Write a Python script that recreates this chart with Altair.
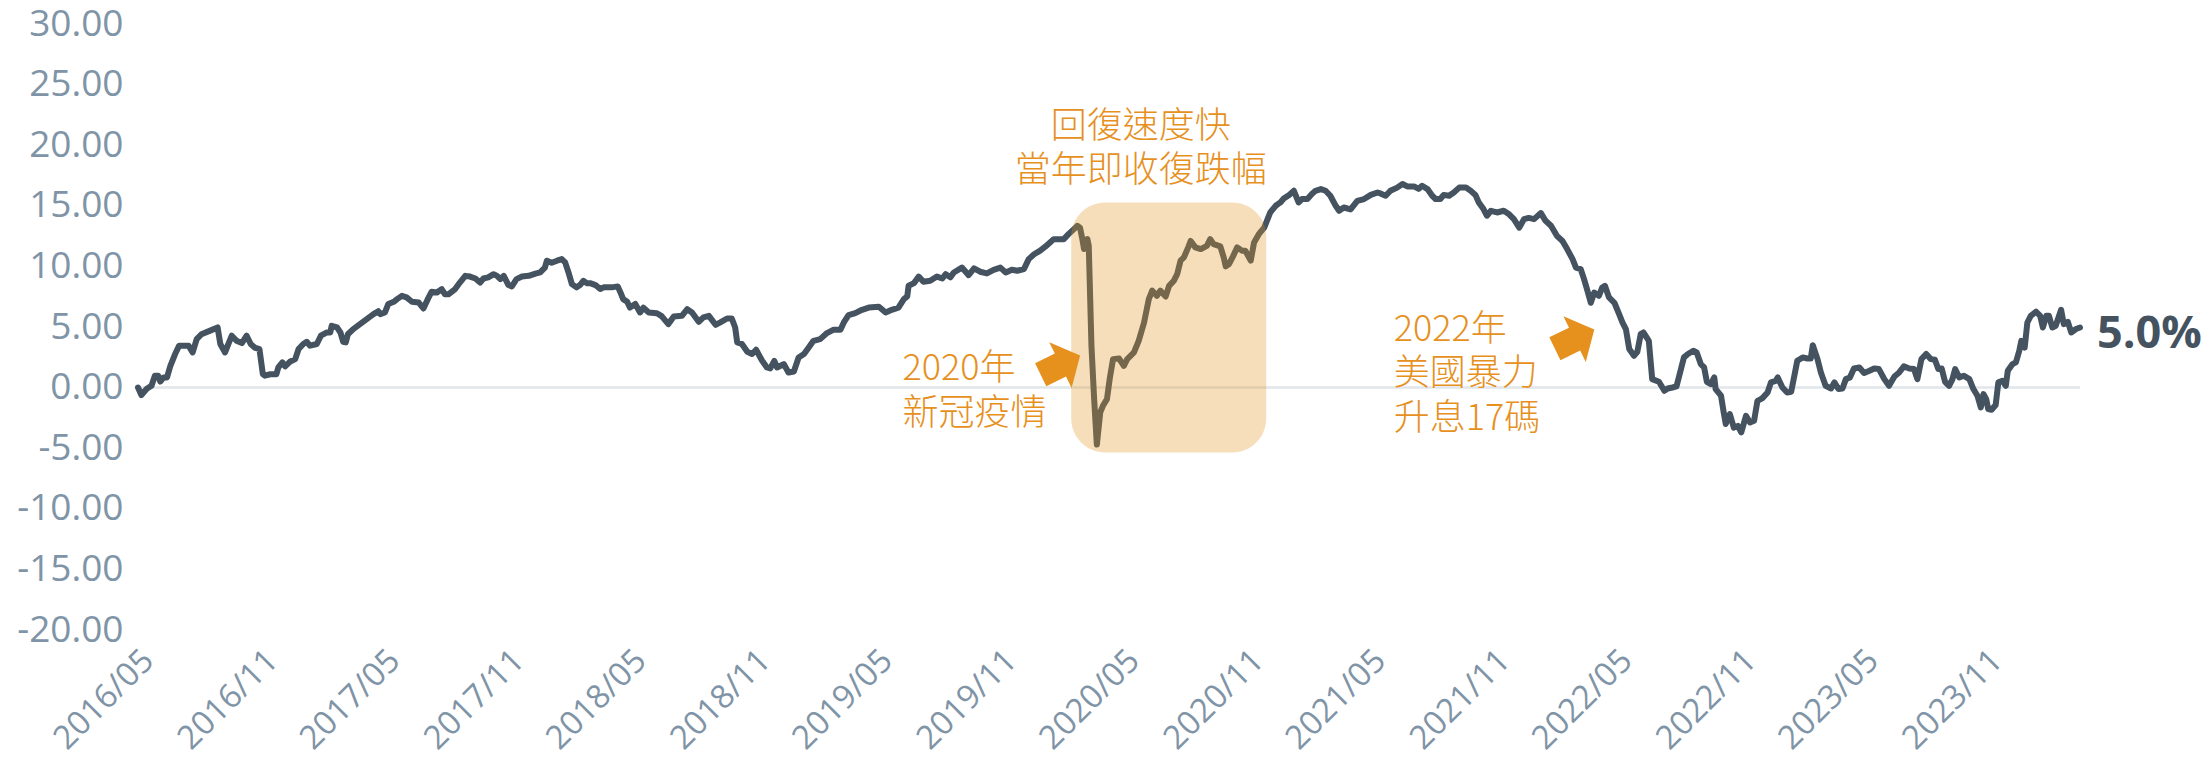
import altair as alt
import pandas as pd

# ---------------- data ----------------
start_date = "2016-05-01"

day_offsets = [
    0, 5, 13, 20, 25, 30, 33, 38, 43, 48, 55, 61, 75, 81, 87, 94, 107, 118, 122, 129,
    134, 139, 146, 154, 161, 167, 173, 180, 185, 188, 196, 205, 208, 214, 218, 225, 233, 238, 245, 250,
    255, 265, 271, 280, 285, 287, 295, 300, 304, 308, 311, 319, 329, 339, 349, 356, 359, 366, 371, 379,
    384, 391, 398, 406, 416, 423, 430, 435, 443, 450, 455, 460, 470, 477, 485, 492, 500, 507, 512, 519,
    527, 532, 537, 542, 549, 554, 561, 569, 579, 589, 596, 603, 606, 613, 621, 628, 633, 638, 643, 650,
    655, 660, 665, 670, 678, 685, 690, 702, 711, 715, 719, 725, 729,
    737, 744, 749, 757, 769, 776, 786, 794, 806, 814, 821, 831, 838, 846, 856, 863, 873, 880, 885, 888,
    895, 903, 910, 916, 925, 932, 937, 943, 947, 957, 964, 972, 979, 987, 994, 1001, 1011, 1021, 1031, 1041,
    1046, 1053, 1063, 1073, 1083, 1098, 1108, 1117, 1127, 1135, 1140, 1142, 1150, 1157, 1164, 1174, 1184, 1192, 1197, 1204,
    1209, 1221, 1231, 1239, 1248, 1258, 1268, 1278, 1286, 1295, 1303, 1313, 1320, 1328, 1337, 1345, 1352, 1357, 1372, 1379,
    1387, 1392, 1396, 1399, 1402, 1407, 1409, 1413, 1417, 1421, 1426, 1430, 1436, 1440, 1445, 1454,
    1461, 1466, 1476, 1483, 1491, 1498, 1503, 1510, 1515, 1523, 1528, 1535, 1540, 1545, 1550, 1557, 1560, 1567, 1575, 1584,
    1589, 1594, 1604, 1609, 1612, 1617, 1622, 1629, 1636, 1641, 1649, 1654, 1661, 1669, 1673, 1678, 1686, 1693, 1698, 1706,
    1713, 1720, 1725, 1733, 1740, 1745, 1753, 1760, 1767, 1775, 1780, 1787, 1797, 1807, 1817, 1827, 1837, 1842, 1849, 1856,
    1866, 1874, 1881, 1891, 1898, 1903, 1911, 1918, 1923, 1930, 1935, 1943, 1950, 1958, 1968, 1975, 1982, 1987, 1994, 1999,
    2005, 2014, 2024, 2032, 2039, 2047, 2054, 2061, 2069, 2079, 2086, 2094, 2103, 2111, 2118, 2126, 2131, 2138, 2143, 2148,
    2153, 2158, 2165,
    2170, 2174, 2180, 2188, 2195, 2200, 2205, 2210, 2217, 2222, 2227, 2231, 2239, 2244, 2254, 2262, 2267, 2274, 2280, 2286,
    2291, 2297, 2305, 2310, 2316, 2321, 2325, 2331, 2336, 2338, 2346, 2350, 2353, 2359, 2365, 2371, 2376, 2383, 2389, 2395,
    2400, 2407, 2415, 2420, 2427, 2430, 2437, 2444, 2450, 2459, 2467, 2474, 2479, 2482, 2489, 2494, 2501, 2509, 2514, 2520,
    2526, 2531, 2537, 2543, 2551, 2558, 2566, 2573, 2580, 2588, 2595, 2603, 2610, 2617, 2625, 2632, 2637, 2643, 2650, 2657,
    2663, 2668, 2673, 2678, 2684, 2689, 2693, 2699, 2706, 2714, 2720, 2726, 2731, 2735, 2739, 2742, 2747, 2753, 2757, 2763,
    2768, 2771, 2778, 2783, 2788, 2791, 2796, 2800, 2805, 2813, 2819, 2823, 2828, 2832, 2837, 2842, 2850, 2854, 2860, 2865,
    2872, 2878,
]

values = [
    0.0, -0.62, -0.1, 0.15, 0.98, 0.98, 0.5, 0.84, 0.84, 1.8, 2.77, 3.46, 3.46, 2.9, 4.0, 4.4, 4.7, 4.96, 3.6, 2.9,
    3.6, 4.28, 3.87, 3.67, 4.28, 3.6, 3.3, 3.18, 1.11, 0.98, 1.1, 1.1, 1.66, 2.08, 1.75, 2.13, 2.35, 3.18, 3.6, 3.78,
    3.46, 3.6, 4.28, 4.55, 4.55, 5.1, 4.96, 4.55, 3.78, 3.73, 4.4, 4.83, 5.24, 5.65, 6.06, 6.3, 6.06, 6.2, 6.9, 7.08,
    7.3, 7.57, 7.44, 7.08, 7.02, 6.53, 7.36, 7.9, 7.85, 8.13, 7.7, 7.7, 8.13, 8.67, 9.22, 9.16, 9.0, 8.67, 9.0, 9.09,
    9.36, 9.22, 8.95, 9.22, 8.46, 8.35, 8.95, 9.16, 9.22, 9.4, 9.5, 9.9, 10.47, 10.3, 10.47, 10.6, 10.33, 9.5, 8.54, 8.27,
    8.46, 8.81, 8.62, 8.62, 8.46, 8.13, 8.27, 8.27, 8.35, 7.85, 7.3, 7.08, 6.6,
    6.9, 6.2, 6.6, 6.2, 6.14, 5.9, 5.24, 5.87, 5.92, 6.47, 6.2, 5.43, 5.8, 5.92, 5.18, 5.38, 5.7, 5.7, 4.96, 3.73,
    3.6, 2.96, 2.77, 3.12, 2.21, 1.66, 1.58, 2.21, 1.66, 1.94, 1.25, 1.33, 2.49, 2.77, 3.31, 3.86, 4.0, 4.5, 4.78, 4.78,
    5.38, 5.98, 6.14, 6.42, 6.6, 6.67, 6.2, 6.42, 6.6, 7.3, 7.52, 8.4, 8.62, 9.16, 8.73, 8.81, 9.16, 9.0, 9.36, 9.1,
    9.5, 9.9, 9.28, 9.83, 9.56, 9.42, 9.72, 9.9, 9.5, 9.72, 9.64, 9.78, 10.6, 11.0, 11.3, 11.65, 12.0, 12.25, 12.25, 12.66,
    13.08, 13.35, 13.2, 12.4, 11.43, 12.25, 11.7, 3.45, -0.95, -4.7, -2.05, -1.5, -0.95, 0.7, 2.35, 2.4,
    1.8, 2.35, 2.9, 3.86, 5.37, 7.3, 8.0, 7.57, 8.0, 7.52, 8.4, 8.8, 9.36, 10.47, 10.74, 11.65, 12.1, 11.57, 11.43, 11.7,
    12.25, 11.84, 11.65, 10.74, 10.0, 10.2, 10.74, 11.57, 11.3, 11.3, 10.47, 11.98, 12.66, 13.2, 13.76, 14.45, 15.0, 15.28, 15.6, 15.9,
    16.24, 15.28, 15.56, 15.56, 16.0, 16.24, 16.38, 16.24, 15.83, 15.0, 14.59, 14.86, 14.7, 15.4, 15.56, 15.9, 16.1, 16.0, 15.83, 16.24,
    16.5, 16.8, 16.6, 16.6, 16.4, 16.65, 16.38, 15.83, 15.56, 15.56, 15.9, 15.83, 16.1, 16.5, 16.5, 16.24, 15.9, 15.28, 14.73, 14.18,
    14.59, 14.45, 14.59, 14.3, 13.9, 13.2, 13.9, 14.0, 13.9, 14.4, 13.76, 13.35, 12.5, 12.1, 11.43, 10.6, 9.9, 9.78, 8.95, 8.0,
    7.0, 7.84, 7.57,
    8.26, 8.4, 7.44, 7.0, 6.06, 5.37, 4.83, 3.18, 2.63, 2.96, 4.41, 4.55, 3.86, 0.7, 0.48, -0.26, -0.07, 0.01, 0.1, 1.39,
    2.49, 2.77, 3.04, 2.9, 1.94, 1.66, 0.48, 0.29, 0.84, -0.12, -0.67, -2.05, -3.0, -2.19, -3.3, -3.16, -3.7, -2.33, -2.88, -2.74,
    -1.09, -0.89, -0.4, 0.43, 0.56, 0.84, 0.01, -0.4, -0.34, 2.21, 2.49, 2.4, 2.4, 3.5, 2.35, 1.25, 0.15, -0.07, 0.43, -0.12,
    -0.07, 0.7, 0.84, 1.58, 1.66, 1.2, 1.39, 1.58, 1.53, 0.7, 0.15, 0.92, 1.25, 1.75, 1.58, 1.53, 0.7, 2.35, 2.77, 2.35,
    2.3, 1.53, 1.58, 0.48, 0.15, 0.7, 1.53, 0.84, 0.98, 0.7, -0.12, -0.67, -1.63, -0.54, -0.95, -1.77, -1.83, -1.44, 0.43, 0.56,
    0.15, 1.39, 1.94, 2.08, 3.04, 3.86, 3.3, 5.37, 5.92, 6.26, 5.92, 4.96, 5.92, 5.92, 4.96, 5.1, 6.42, 5.24, 5.43, 4.55,
    4.83, 4.96,
]

x_tick_dates = [
    (2016, 5), (2016, 11), (2017, 5), (2017, 11), (2018, 5), (2018, 11), (2019, 5), (2019, 11),
    (2020, 5), (2020, 11), (2021, 5), (2021, 11), (2022, 5), (2022, 11), (2023, 5), (2023, 11),
]
y_ticks = [-20, -15, -10, -5, 0, 5, 10, 15, 20, 25, 30]

# annotation texts (centered block above the box)
center_text = ["回復速度快", "當年即收復跌幅"]
center_day = [1486, 1486]
center_value = [21.5, 17.86]

# left-aligned annotation texts
left_text = ["2020年", "新冠疫情", "2022年", "美國暴力", "升息17碼"]
left_day = [1133, 1133, 1861, 1861, 1861]
left_value = [1.53, -2.19, 4.74, 1.11, -2.6]

arrow_day = [1367, 2129]
arrow_value = [1.86, 4.0]

box_day = [1383, 1672]
box_value = [-5.35, 15.28]

end_label = "5.0%"
end_label_value = 4.4

# ---------------- helpers ----------------
base = pd.Timestamp(start_date)


def to_date(d):
    return (base + pd.Timedelta(days=d)).strftime("%Y-%m-%dT00:00:00")


series = pd.DataFrame({"date": [to_date(d) for d in day_offsets], "value": values})
zero_df = pd.DataFrame({"date": [to_date(day_offsets[0])], "date2": [to_date(day_offsets[-1])], "value": [0]})
box_df = pd.DataFrame({"date": [to_date(box_day[0])], "date2": [to_date(box_day[1])],
                       "value": [box_value[0]], "value2": [box_value[1]]})
center_df = pd.DataFrame({"date": [to_date(d) for d in center_day], "value": center_value, "label": center_text})
left_df = pd.DataFrame({"date": [to_date(d) for d in left_day], "value": left_value, "label": left_text})
arrow_df = pd.DataFrame({"date": [to_date(d) for d in arrow_day], "value": arrow_value})
end_df = pd.DataFrame({"date": [to_date(day_offsets[-1])], "value": [end_label_value], "label": [end_label]})

LINE = "#44535F"
ORANGE = "#E6901E"
AXIS_TXT = "#7F94A6"

xscale = alt.Scale(nice=False)
yscale = alt.Scale(domain=[-20, 30], nice=False, zero=False)

xaxis = alt.Axis(
    values=[alt.DateTime(year=y, month=m, date=1) for y, m in x_tick_dates],
    format="%Y/%m", labelAngle=-45, labelAlign="right", labelBaseline="middle",
    labelPadding=25, labelOffset=10, labelFont="Open Sans", labelFontSize=33,
    labelColor=AXIS_TXT, domain=False, ticks=False, grid=False, title=None,
    labelOverlap=False, labelFlush=False, labelBound=False,
)
yaxis = alt.Axis(
    values=y_ticks,
    labelExpr="replace(format(datum.value, '.2f'), '\u2212', '-')",
    labelFont="Open Sans", labelFontSize=37,
    labelColor=AXIS_TXT, labelPadding=15, domain=False, ticks=False, grid=False, title=None,
)

X = alt.X("date:T", scale=xscale, axis=xaxis)
Y = alt.Y("value:Q", scale=yscale, axis=yaxis)

zero_rule = alt.Chart(zero_df).mark_rule(color="#E1E6EA", strokeWidth=2.5).encode(
    x=X, x2="date2:T", y=Y
)

line = alt.Chart(series).mark_line(
    color=LINE, strokeWidth=6, strokeJoin="round", strokeCap="round"
).encode(x=X, y=Y)

box = alt.Chart(box_df).mark_rect(
    color="#E3951F", opacity=0.31, cornerRadius=34
).encode(x=X, x2="date2:T", y=Y, y2="value2:Q")

arrow_path = "M0,-0.86 L1,0 L0.5,0 L0.5,0.86 L-0.5,0.86 L-0.5,0 L-1,0 Z"
arrows = alt.Chart(arrow_df).mark_point(
    shape=arrow_path, filled=True, size=2600, angle=64, color=ORANGE, opacity=1, strokeWidth=0
).encode(x=X, y=Y)

center_txt = alt.Chart(center_df).mark_text(
    align="center", baseline="middle", font="Noto Sans CJK TC", fontSize=36, fontWeight=300, color=ORANGE
).encode(x=X, y=Y, text="label:N")

left_txt = alt.Chart(left_df).mark_text(
    align="left", baseline="middle", font="Noto Sans CJK TC", fontSize=36, fontWeight=300, color=ORANGE
).encode(x=X, y=Y, text="label:N")

end_txt = alt.Chart(end_df).mark_text(
    align="left", baseline="middle", dx=17, font="Open Sans", fontSize=45, fontWeight="bold", color=LINE
).encode(x=X, y=Y, text="label:N")

chart = alt.layer(zero_rule, line, box, arrows, center_txt, left_txt, end_txt).properties(
    width=1942, height=606,
    padding={"left": 130, "top": 16, "right": 123, "bottom": 127},
    autosize=alt.AutoSizeParams(type="none"),
    background="white",
).configure_view(stroke=None)

chart.save("out.html", embed_options={"renderer": "svg", "actions": False})
